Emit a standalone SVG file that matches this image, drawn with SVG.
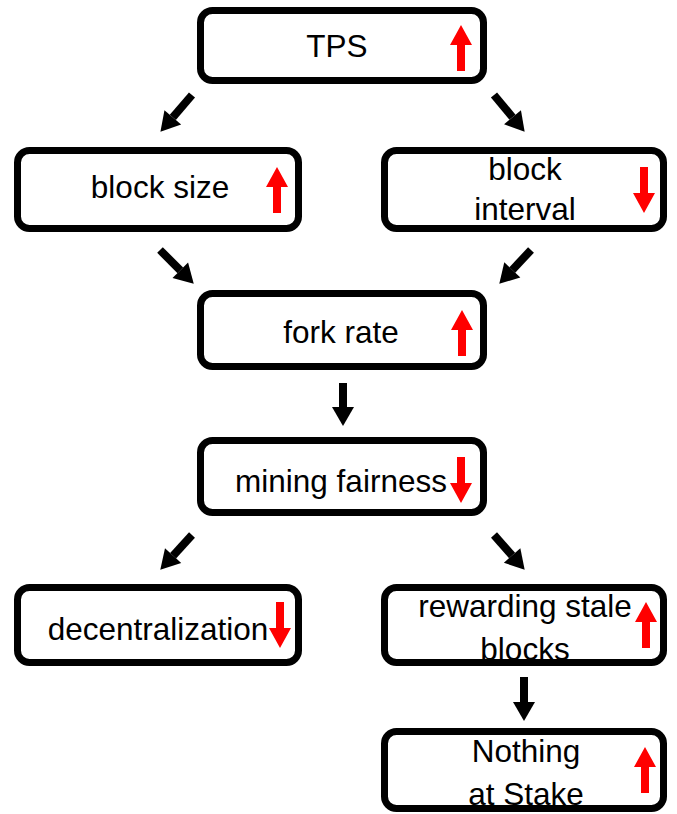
<svg xmlns="http://www.w3.org/2000/svg" width="677" height="814" viewBox="0 0 677 814">
<style>
.box{fill:#fff;stroke:#000;stroke-width:7}
.t{font-family:"Liberation Sans",Arial,sans-serif;font-size:31.5px;fill:#000;text-anchor:middle}
.con{stroke:#000;stroke-width:8;fill:none;marker-end:url(#ah)}
.red{fill:#f00}
</style>
<defs>
<marker id="ah" markerUnits="userSpaceOnUse" markerWidth="20" markerHeight="24" refX="0" refY="12" orient="auto" overflow="visible">
<path d="M0,1 L19,12 L0,23 Z" fill="#000"/>
</marker>
<path id="up" d="M0,0 L11,20 L4,20 L4,46 L-4,46 L-4,20 L-11,20 Z"/>
</defs>
<rect width="677" height="814" fill="#fff"/>
<g id="connectors">
<line class="con" x1="192" y1="95" x2="172.8" y2="117.4"/>
<line class="con" x1="494" y1="95" x2="512.5" y2="117.2"/>
<line class="con" x1="160" y1="250" x2="180.3" y2="270.3"/>
<line class="con" x1="531" y1="250" x2="512.3" y2="269.9"/>
<line class="con" x1="343" y1="383" x2="343" y2="407"/>
<line class="con" x1="192" y1="535" x2="173.1" y2="555.7"/>
<line class="con" x1="494" y1="535" x2="512.1" y2="555.5"/>
<line class="con" x1="524" y1="677" x2="524" y2="702"/>
</g>
<g id="tps">
<rect class="box" x="200.5" y="10.5" width="283" height="70" rx="12"/>
<text class="t" x="337" y="57">TPS</text>
<use href="#up" class="red" transform="translate(461,25)"/>
</g>
<g id="blocksize">
<rect class="box" x="17.5" y="150.5" width="281" height="78" rx="12"/>
<text class="t" x="160" y="198">block size</text>
<use href="#up" class="red" transform="translate(277,167)"/>
</g>
<g id="blockinterval">
<rect class="box" x="384.5" y="150.5" width="279" height="78" rx="12"/>
<text class="t" x="525" y="180">block</text>
<text class="t" x="525" y="220">interval</text>
<use href="#up" class="red" transform="translate(644,213) rotate(180)"/>
</g>
<g id="forkrate">
<rect class="box" x="200.5" y="293.5" width="283" height="73" rx="12"/>
<text class="t" x="341" y="343">fork rate</text>
<use href="#up" class="red" transform="translate(462,310)"/>
</g>
<g id="miningfairness">
<rect class="box" x="200.5" y="440.5" width="283" height="72" rx="12"/>
<text class="t" x="341" y="492">mining fairness</text>
<use href="#up" class="red" transform="translate(461,503) rotate(180)"/>
</g>
<g id="decentralization">
<rect class="box" x="17.5" y="587.5" width="281" height="75" rx="12"/>
<text class="t" x="158" y="640">decentralization</text>
<use href="#up" class="red" transform="translate(280,648) rotate(180)"/>
</g>
<g id="rewarding">
<rect class="box" x="384.5" y="587.5" width="279" height="75" rx="12"/>
<text class="t" x="525" y="617">rewarding stale</text>
<text class="t" x="525" y="660">blocks</text>
<use href="#up" class="red" transform="translate(646,602)"/>
</g>
<g id="nothing">
<rect class="box" x="384.5" y="731.5" width="279" height="77" rx="12"/>
<text class="t" x="526" y="762">Nothing</text>
<text class="t" x="526" y="805">at Stake</text>
<use href="#up" class="red" transform="translate(645,747)"/>
</g>
</svg>
